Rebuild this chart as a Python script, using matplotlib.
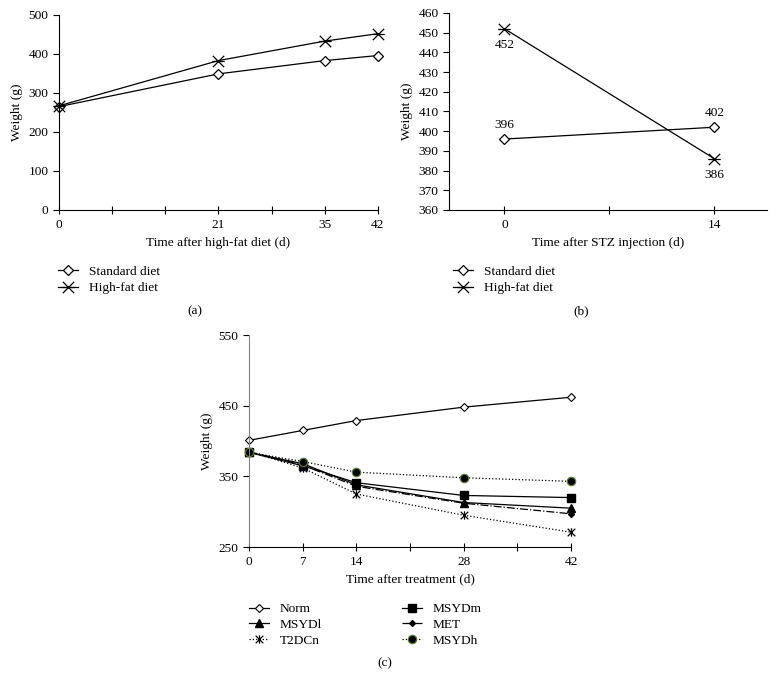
import matplotlib
matplotlib.use('Agg')
import matplotlib.pyplot as plt
from matplotlib.path import Path

plt.rcParams['font.family'] = ['Liberation Serif', 'DejaVu Serif']
plt.rcParams['font.size'] = 9.6

# (a) weight during high-fat diet
days_a = [0, 21, 35, 42]
std_a = [265, 349, 383, 396]
hfd_a = [267, 383, 433, 452]

# (b) weight after STZ injection
days_b = [0, 14]
std_b = [396, 402]
hfd_b = [452, 386]

# (c) weight after treatment
days_c = [0, 7, 14, 28, 42]
norm_c = [401, 415, 429, 448, 462]
msydl_c = [384, 368, 338, 313, 305]
t2dcn_c = [385, 362, 325, 295, 271]
msydm_c = [384, 365, 341, 323, 320]
met_c = [385, 366, 336, 312, 297]
msydh_c = [384, 371, 356, 348, 343]

# asterisk-like markers: X plus a horizontal / vertical bar
M, L = Path.MOVETO, Path.LINETO
star_h = Path([(-1, -1), (1, 1), (-1, 1), (1, -1), (-1.1, 0), (1.1, 0)],
              [M, L, M, L, M, L])
star_v = Path([(-1, -1), (1, 1), (-1, 1), (1, -1), (0, -1.1), (0, 1.1)],
              [M, L, M, L, M, L])


def style_axes(ax):
    for s in ['top', 'right']:
        ax.spines[s].set_visible(False)
    ax.tick_params(axis='y', direction='out', length=4, width=0.8, labelsize=9.6)
    ax.tick_params(axis='x', direction='inout', length=6, width=0.8, labelsize=9.6)
    ax.set_ylabel('Weight (g)')


fig = plt.figure(figsize=(7.76, 6.90), dpi=100)

# ---- panel (a)
ax1 = fig.add_axes([0.076, 0.6957, 0.411, 0.2826])
ax1.plot(days_a, std_a, '-', color='black', lw=0.9, marker='D', ms=5.5,
         mfc='white', mec='black', mew=0.9, label='Standard diet')
ax1.plot(days_a, hfd_a, '-', color='black', lw=0.9, marker=star_h, ms=9,
         mec='black', mew=0.9, label='High-fat diet')
ax1.set_xlim(0, 42)
ax1.set_ylim(0, 500)
ax1.set_xticks(range(0, 43, 7))
ax1.set_xticklabels(['0', '', '', '21', '', '35', '42'])
ax1.set_yticks(range(0, 501, 100))
ax1.set_xlabel('Time after high-fat diet (d)')
style_axes(ax1)
for ln in ax1.lines:
    ln.set_clip_on(False)
ax1.legend(loc='upper left', bbox_to_anchor=(0.075, 0.615), bbox_transform=fig.transFigure,
           frameon=False, handlelength=1.5, labelspacing=0.3, handletextpad=0.8,
           borderpad=0, borderaxespad=0)
fig.text(195 / 776, 1 - 311 / 690, '(a)', ha='center', va='center')

# ---- panel (b)
ax2 = fig.add_axes([0.5786, 0.6957, 0.4098, 0.2855])
ax2.plot(days_b, std_b, '-', color='black', lw=0.9, marker='D', ms=5.5,
         mfc='white', mec='black', mew=0.9, label='Standard diet')
ax2.plot(days_b, hfd_b, '-', color='black', lw=0.9, marker=star_h, ms=9,
         mec='black', mew=0.9, label='High-fat diet')
for x, y in zip(days_b, std_b):
    ax2.annotate(str(y), (x, y), xytext=(0, 6), textcoords='offset points',
                 ha='center', va='bottom')
for x, y in zip(days_b, hfd_b):
    ax2.annotate(str(y), (x, y), xytext=(0, -7.5), textcoords='offset points',
                 ha='center', va='top')
ax2.set_xlim(-3.7, 17.5)
ax2.set_ylim(360, 460)
ax2.set_xticks([0, 7, 14])
ax2.set_xticklabels(['0', '', '14'])
ax2.set_yticks(range(360, 461, 10))
ax2.set_xlabel('Time after STZ injection (d)')
style_axes(ax2)
for ln in ax2.lines:
    ln.set_clip_on(False)
ax2.legend(loc='upper left', bbox_to_anchor=(0.584, 0.615), bbox_transform=fig.transFigure,
           frameon=False, handlelength=1.5, labelspacing=0.3, handletextpad=0.8,
           borderpad=0, borderaxespad=0)
fig.text(581 / 776, 1 - 311 / 690, '(b)', ha='center', va='center')

# ---- panel (c)
ax3 = fig.add_axes([0.3209, 0.2072, 0.415, 0.3072])
ax3.plot(days_c, norm_c, '-', color='black', lw=0.9, marker='D', ms=4,
         mfc='white', mec='black', mew=0.8, label='Norm')
ax3.plot(days_c, msydl_c, '-', color='black', lw=0.9, marker='^', ms=6,
         mfc='black', mec='black', label='MSYDl')
ax3.plot(days_c, t2dcn_c, ':', color='black', lw=0.9, marker=star_v, ms=6,
         mec='black', mew=0.9, label='T2DCn')
ax3.plot(days_c, msydm_c, '-', color='black', lw=0.9, marker='s', ms=6,
         mfc='black', mec='black', label='MSYDm')
ax3.plot(days_c, met_c, '-.', color='black', lw=0.9, marker='D', ms=3,
         mfc='black', mec='black', label='MET')
ax3.plot(days_c, msydh_c, ':', color='black', lw=0.9, marker='o', ms=6,
         mfc='black', mec='#5b7a2a', mew=0.9, label='MSYDh')
ax3.set_xlim(0, 42)
ax3.set_ylim(250, 550)
ax3.set_xticks(range(0, 43, 7))
ax3.set_xticklabels(['0', '7', '14', '', '28', '', '42'])
ax3.set_yticks([250, 350, 450, 550])
ax3.set_xlabel('Time after treatment (d)')
style_axes(ax3)
ax3.spines['left'].set_color('#808080')
for ln in ax3.lines:
    ln.set_clip_on(False)
h, l = ax3.get_legend_handles_labels()
ax3.legend(h, l, loc='upper left', bbox_to_anchor=(0.321, 0.126), bbox_transform=fig.transFigure,
           ncol=2, frameon=False, handlelength=1.5, labelspacing=0.25, handletextpad=0.8,
           columnspacing=6.0, borderpad=0, borderaxespad=0)
fig.text(385 / 776, 1 - 663 / 690, '(c)', ha='center', va='center')

fig.savefig('out.png', dpi=100)
